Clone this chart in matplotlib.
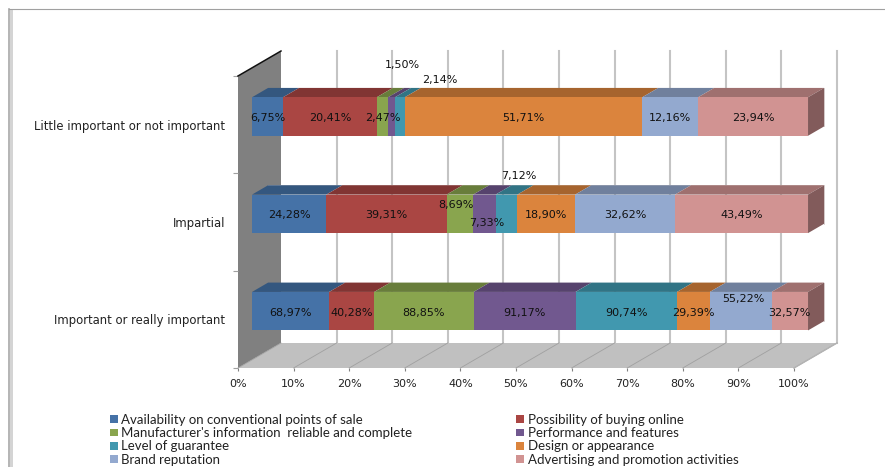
import matplotlib
matplotlib.use("Agg")
import matplotlib.pyplot as plt
from matplotlib.patches import Polygon, Rectangle
from matplotlib.transforms import Affine2D
from matplotlib.lines import Line2D
from matplotlib.colors import to_rgb

W, H = 885, 467
categories = ["Important or really important", "Impartial", "Little important or not important"]
series_names = ["Availability on conventional points of sale", "Possibility of buying online",
                "Manufacturer's information  reliable and complete", "Performance and features",
                "Level of guarantee", "Design or appearance", "Brand reputation",
                "Advertising and promotion activities"]
availability = [68.97, 24.28, 6.75]
online = [40.28, 39.31, 20.41]
information = [88.85, 8.69, 2.47]
performance = [91.17, 7.33, 1.50]
guarantee = [90.74, 7.12, 2.14]
design = [29.39, 18.90, 51.71]
brand = [55.22, 32.62, 12.16]
advertising = [32.57, 43.49, 23.94]
colors = ["#4572A7", "#AA4643", "#89A54E", "#71588F", "#4198AF", "#DB843D", "#93A9CF", "#D19392"]
series = [availability, online, information, performance, guarantee, design, brand, advertising]
xticks = list(range(0, 101, 10))

# label nudges in pixels: (row, series) -> (dx, dy upward)
nudges = {(2, 3): (11, 53), (2, 4): (40, 38), (1, 2): (-4, 10), (1, 3): (2, -8),
          (1, 4): (12, 39), (0, 6): (3, 13.5)}

fig = plt.figure(figsize=(W / 100, H / 100), dpi=100, facecolor="white")
ax = fig.add_axes([238 / W, 1 - 368 / H, (794 - 238) / W, (368 - 76) / H])
ax.set_xlim(0, 100)
ax.set_ylim(0, 3)
ax.patch.set_visible(False)
for s in ax.spines.values():
    s.set_visible(False)

DX = 43 / 556 * 100
DY = 25 / 292 * 3


def pr(x, y, d):
    return (x + d * DX, y + d * DY)


def poly(pts, z, **kw):
    kw.setdefault("linewidth", 0)
    p = Polygon(pts, closed=True, zorder=z, clip_on=False, **kw)
    ax.add_patch(p)


def darker(c, f):
    return tuple(v * f for v in to_rgb(c))


# walls
poly([pr(0, 0, 0), pr(0, 3, 0), pr(0, 3, 1), pr(0, 0, 1)], 1, facecolor="#808080")
poly([pr(0, 0, 0), pr(100, 0, 0), pr(100, 0, 1), pr(0, 0, 1)], 1, facecolor="#c0c0c0")
ax.plot(*zip(pr(0, 3, 0), pr(0, 3, 1)), color="#111111", lw=1.1, zorder=3, clip_on=False)
ax.plot(*zip(pr(100, 0, 0), pr(100, 0, 1)), color="#b4b4b4", lw=1.0, zorder=3, clip_on=False)
for t in xticks:
    if t:
        ax.plot(*zip(pr(t, 0, 1), pr(t, 3, 1)), color="#c4c4c4", lw=1.5, zorder=2, clip_on=False)
    ax.plot(*zip(pr(t, 0, 0), pr(t, 0, 1)), color="#a0a0a0", lw=0.6, zorder=2, clip_on=False)

# bars
BAR_H = 38.5 / 292 * 3
D0, D1 = 0.326, 0.70
for row, cat in enumerate(categories):
    total = sum(s[row] for s in series)
    left = 0.0
    y0, y1 = row + 0.5 - BAR_H / 2, row + 0.5 + BAR_H / 2
    for i, s in enumerate(series):
        w = s[row] / total * 100
        poly([pr(left, y1, D0), pr(left + w, y1, D0), pr(left + w, y1, D1), pr(left, y1, D1)],
             4, facecolor=darker(colors[i], 0.76))
        poly([pr(left, y0, D0), pr(left + w, y0, D0), pr(left + w, y1, D0), pr(left, y1, D0)],
             5, facecolor=colors[i])
        if i == len(series) - 1:
            poly([pr(100, y0, D0), pr(100, y1, D0), pr(100, y1, D1), pr(100, y0, D1)],
                 4, facecolor=darker(colors[i], 0.62))
        cx, cy = pr(left + w / 2, row + 0.5, D0)
        dx, dy = nudges.get((row, i), (0, 0))
        ax.annotate(f"{s[row]:.2f}%".replace(".", ","), (cx, cy),
                    xytext=(dx * 0.72, (dy - 1.5) * 0.72),
                    textcoords="offset points", ha="center", va="center", fontsize=8.0,
                    color="#111111", zorder=8, annotation_clip=False)
        left += w
    # pale outline along the back and the far end of each bar
    ax.plot(*zip(pr(0, y1, D1), pr(100, y1, D1), pr(100, y0, D1)),
            color="#dcd4d4", lw=0.7, zorder=3.5, clip_on=False)

# axes ticks and labels
ax.set_xticks(xticks)
ax.set_xticklabels([f"{t}%" for t in xticks], fontsize=8, color="#222222")
ax.tick_params(axis="x", length=2, width=0.8, color="#808080", pad=6)
ax.set_yticks([0.5, 1.5, 2.5])
ax.set_yticklabels(categories, fontsize=8.4, color="#222222")
ax.tick_params(axis="y", which="major", length=0, pad=9.4)
ax.set_yticks([0, 1, 2, 3], minor=True)
ax.tick_params(axis="y", which="minor", length=3.5, width=0.8, color="#a0a0a0")

# legend, filled row by row as in the source
order = [0, 2, 4, 6, 1, 3, 5, 7]
handles = [Rectangle((0, 0), 1, 1, facecolor=colors[i]) for i in order]
labels = [series_names[i] for i in order]
fig.legend(handles, labels, ncol=2, frameon=False, loc="upper left",
           bbox_to_anchor=(110 / W, 1 - 414 / H), labelcolor="#222222",
           prop={"family": "Lato", "size": 9.5},
           handlelength=0.61, handleheight=0.53, handletextpad=0.23, labelspacing=0.09,
           columnspacing=7.9, borderpad=0, borderaxespad=0)

# outer frame
px = Affine2D().scale(1 / W, 1 / H) + fig.transFigure
fig.add_artist(Rectangle((10, 0), 2.7, H - 10, transform=px, facecolor="#d4d4d4", lw=0))
fig.add_artist(Line2D([9, 9], [0, H - 9.3], transform=px, color="#a8a8a8", lw=1.2))
fig.add_artist(Line2D([9, W], [H - 9.3, H - 9.3], transform=px, color="#a0a0a0", lw=0.8))

fig.savefig("out.png", dpi=100)
